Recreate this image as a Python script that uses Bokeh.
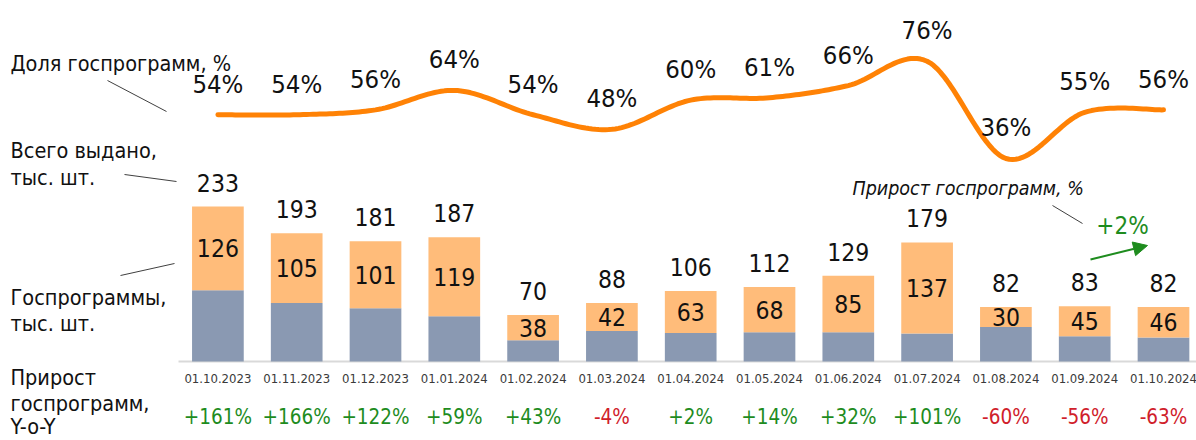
from bokeh.plotting import figure
from bokeh.models import (Range1d, ColumnDataSource, LabelSet, Label, Arrow, NormalHead)
from bokeh.core.properties import value
from bokeh.embed import file_html
from bokeh.resources import INLINE

# ---------------- data ----------------
dates = ["01.10.2023", "01.11.2023", "01.12.2023", "01.01.2024", "01.02.2024",
         "01.03.2024", "01.04.2024", "01.05.2024", "01.06.2024", "01.07.2024",
         "01.08.2024", "01.09.2024", "01.10.2024"]
total = [233, 193, 181, 187, 70, 88, 106, 112, 129, 179, 82, 83, 82]
gov = [126, 105, 101, 119, 38, 42, 63, 68, 85, 137, 30, 45, 46]
share = [54, 54, 56, 64, 54, 48, 60, 61, 66, 76, 36, 55, 56]
growth = [161, 166, 122, 59, 43, -4, 2, 14, 32, 101, -60, -56, -63]
mom_growth = 2

FONT = "DejaVu Sans Condensed"
ORANGE_BAR = "#FFBC7A"
GREY_BAR = "#8A99B2"
LINE = "#FF8205"
GREEN = "#1E8C1E"
RED = "#D0202A"
TXT = "#111111"

# ---------------- layout geometry (canvas pixels) ----------------
W, H = 1196, 440
X0 = 178            # left edge of first category slot
BASE = 361          # baseline of bars
STEP = 78.8         # px per category
PX_PER_UNIT = 0.665 # px per bar unit (thousand pcs)
SH_TOP_PX, SH_TOP_V, SH_SCALE = 8, 97.7, 2.431   # share axis mapping
n = len(dates)
xs = list(range(n))


def px_x(px):
    return -0.5 + (px - X0) / STEP


def px_y(py):
    return (BASE - py) / PX_PER_UNIT


def px_sh(py):
    return SH_TOP_V - (py - SH_TOP_PX) / SH_SCALE


p = figure(width=W, height=H, output_backend="svg", toolbar_location=None,
           x_range=Range1d(px_x(0), px_x(W)), y_range=Range1d(px_y(H), px_y(0)),
           min_border=0, min_border_left=0, min_border_right=0,
           min_border_top=0, min_border_bottom=0)
p.extra_y_ranges = {"share": Range1d(px_sh(H), px_sh(0))}
p.outline_line_color = None
p.background_fill_color = "white"
p.border_fill_color = "white"
p.grid.visible = False
p.axis.visible = False

# ---------------- category axis ----------------
p.line([-0.5, px_x(W)], [0, 0], line_color="#D9D9D9", line_width=2)
d_src = ColumnDataSource(dict(x=xs, y=[px_y(378)] * n, lbl=dates))
p.add_layout(LabelSet(x="x", y="y", text="lbl", source=d_src,
                      text_align="center", text_baseline="middle",
                      text_font=value(FONT), text_font_size="13px", text_color="#3a3a3a"))

# ---------------- bars ----------------
rest = [t - g for t, g in zip(total, gov)]
src = ColumnDataSource(dict(
    x=xs, rest=rest, gov=gov, total=total,
    gov_y=[r + g / 2 for r, g in zip(rest, gov)],
    tot_y=[t + 24 / PX_PER_UNIT for t in total],
    gov_lbl=[str(g) for g in gov], tot_lbl=[str(t) for t in total],
))
p.vbar_stack(["rest", "gov"], x="x", width=0.656, source=src,
             color=[GREY_BAR, ORANGE_BAR], line_color=None)

p.add_layout(LabelSet(x="x", y="gov_y", text="gov_lbl", source=src,
                      text_align="center", text_baseline="middle",
                      text_font=value(FONT), text_font_size="24.5px", text_color=TXT))
p.add_layout(LabelSet(x="x", y="tot_y", text="tot_lbl", source=src,
                      text_align="center", text_baseline="middle",
                      text_font=value(FONT), text_font_size="24.5px", text_color=TXT))

# ---------------- smoothed share line ----------------
def catmull(xv, yv, steps=24):
    ox, oy = [], []
    m = len(xv)
    for i in range(m - 1):
        x0, y0 = (xv[i - 1], yv[i - 1]) if i > 0 else (xv[i], yv[i])
        x1, y1 = xv[i], yv[i]
        x2, y2 = xv[i + 1], yv[i + 1]
        x3, y3 = (xv[i + 2], yv[i + 2]) if i + 2 < m else (xv[i + 1], yv[i + 1])
        for s in range(steps):
            t = s / steps
            t2, t3 = t * t, t * t * t
            ox.append(0.5 * ((2 * x1) + (-x0 + x2) * t + (2 * x0 - 5 * x1 + 4 * x2 - x3) * t2
                             + (-x0 + 3 * x1 - 3 * x2 + x3) * t3))
            oy.append(0.5 * ((2 * y1) + (-y0 + y2) * t + (2 * y0 - 5 * y1 + 4 * y2 - y3) * t2
                             + (-y0 + 3 * y1 - 3 * y2 + y3) * t3))
    ox.append(xv[-1])
    oy.append(yv[-1])
    return ox, oy


cx, cy = catmull(xs, share)
p.line(cx, cy, y_range_name="share", line_color=LINE, line_width=5,
       line_cap="round", line_join="round")

share_src = ColumnDataSource(dict(
    x=xs, y=[s + 31 / SH_SCALE for s in share],
    lbl=[f"{s}%" for s in share]))
p.add_layout(LabelSet(x="x", y="y", text="lbl", source=share_src, y_range_name="share",
                      text_align="center", text_baseline="middle",
                      text_font=value(FONT), text_font_size="25.5px", text_color=TXT))

# ---------------- growth row ----------------
g_src = ColumnDataSource(dict(
    x=xs, y=[px_y(416)] * n,
    lbl=[f"+{g}%" if g > 0 else f"{g}%" for g in growth],
    col=[GREEN if g > 0 else RED for g in growth]))
p.add_layout(LabelSet(x="x", y="y", text="lbl", source=g_src,
                      text_align="center", text_baseline="middle",
                      text_font=value(FONT), text_font_size="20.5px", text_color="col"))

# ---------------- left-side captions ----------------
captions = [("Доля госпрограмм, %", 63), ("Всего выдано,", 150), ("тыс. шт.", 177),
            ("Госпрограммы,", 297), ("тыс. шт.", 323), ("Прирост", 377),
            ("госпрограмм,", 403), ("Y-o-Y", 426)]
for txt, yy in captions:
    p.add_layout(Label(x=px_x(10), y=px_y(yy), text=txt, text_align="left",
                       text_baseline="middle", text_font=FONT, text_font_size="21.5px",
                       text_color=TXT))

connectors = [((107, 80), (166, 111)), ((124, 174), (176, 181)),
              ((120, 275), (174, 263)), ((1052, 205), (1082, 223))]
for (a, b), (c, d) in connectors:
    p.add_layout(Arrow(end=None, x_start=px_x(a), y_start=px_y(b), x_end=px_x(c),
                       y_end=px_y(d), line_color="#404040", line_width=1))

# annotation for month-over-month growth
p.add_layout(Label(x=px_x(852), y=px_y(188), text="Прирост госпрограмм, %",
                   text_align="left", text_baseline="middle", text_font=FONT,
                   text_font_style="italic", text_font_size="19.5px", text_color=TXT))
p.add_layout(Label(x=px_x(1122), y=px_y(225), text=f"+{mom_growth}%",
                   text_align="center", text_baseline="middle", text_font=FONT,
                   text_font_size="24px", text_color=GREEN))
p.add_layout(Arrow(end=NormalHead(size=14, fill_color=GREEN, line_color=GREEN),
                   x_start=px_x(1090), y_start=px_y(259), x_end=px_x(1147), y_end=px_y(245),
                   line_color=GREEN, line_width=2))

open("out.html", "w").write(file_html(p, INLINE))
